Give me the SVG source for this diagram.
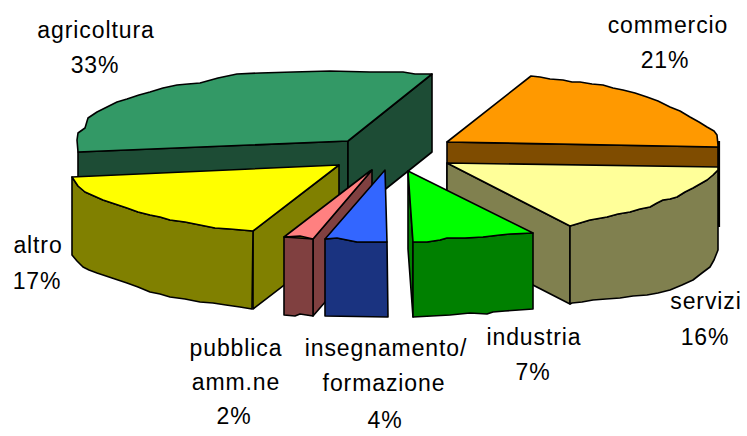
<svg xmlns="http://www.w3.org/2000/svg" width="747" height="436" viewBox="0 0 747 436">
<style>
.s{stroke:#000;stroke-width:1.6;stroke-linejoin:round}
.t{font-family:"Liberation Sans",Arial,sans-serif;font-size:23px;letter-spacing:0.9px;fill:#000;text-anchor:middle}
</style>
<rect width="747" height="436" fill="#fff"/>
<g id="commercio">
<polygon class="s" fill="#7f4c00" points="447,142 718,147 718,226 447,220"/>
<polygon class="s" fill="#ff9900" points="447,142 531,76 540,77 550,79 563,80 572,82 580,82 592,84 603,85 613,88 623,90 635,93 647,97 658,101 670,107 680,111 690,117 699,122 707,127 714,131 717,135 718,145 718,147"/>
<line x1="719" y1="141" x2="719" y2="227" stroke="#000" stroke-width="2.2"/>
</g>
<g id="servizi">
<polygon class="s" fill="#80804f" points="447,163 570,226 570,304 447,241"/>
<polygon class="s" fill="#80804f" points="570,226 590,220 607,217 618,214 630,212 640,209 650,207 657,203 663,200 670,199 677,197 685,192 693,188 700,184 707,180 713,175 718,170 718,250 714,260 710,267 702,273 693,280 682,285 670,290 658,293 647,295 633,296 620,298 606,299 593,300 582,302 572,303 570,304"/>
<polygon class="s" fill="#ffff99" points="447,163 718,167 718,170 713,175 707,180 700,184 693,188 685,192 677,197 670,199 663,200 657,203 650,207 640,209 630,212 618,214 607,217 590,220 570,226"/>
</g>
<g id="agricoltura">
<polygon class="s" fill="#1d4c35" points="78,152 348,141 348,219 78,230"/>
<polygon class="s" fill="#1d4c35" points="348,141 432,74 432,152 348,219"/>
<polygon class="s" fill="#339966" points="348,141 78,152 77,140 78,133 85,128 88,118 97,112 107,107 117,102 127,99 139,95 150,92 163,88 177,85 188,84 200,83 218,78 237,74 260,73 293,72 330,71 370,72 403,72 415,74 432,74"/>
</g>
<g id="altro">
<polygon class="s" fill="#808000" points="253,231 339,165 339,243 253,309"/>
<polygon class="s" fill="#808000" points="72,177 78,186 85,192 94,196 103,200 115,204 127,208 138,212 150,215 160,217 170,220 185,222 200,225 215,228 230,229 253,231 252,309 240,307 226,305 213,303 200,302 185,299 170,297 160,294 150,292 138,287 127,283 112,278 97,273 89,270 83,267 77,261 72,255"/>
<polygon class="s" fill="#ffff00" points="72,177 339,165 253,231 230,229 215,228 200,225 185,222 170,220 160,217 150,215 138,212 127,208 115,204 103,200 94,196 85,192 78,186"/>
</g>
<g id="pubblica">
<polygon class="s" fill="#804040" points="313,239 372,170 372,248 313,316"/>
<polygon class="s" fill="#804040" points="284,237 313,239 313,316 300,314 295,316 284,315"/>
<polygon class="s" fill="#ff8080" points="284,237 370,171 372,170 313,239 300,236"/>
</g>
<g id="insegnamento">
<polygon class="s" fill="#1a3380" points="325,239 337,238 347,240 357,242 387,242 388,317 325,316"/>
<polygon class="s" fill="#3366ff" points="325,239 385,170 387,242 357,242 347,240 337,238"/>
</g>
<g id="industria">
<polygon class="s" fill="#008000" points="408,171 413,242 413,317 408,249"/>
<polygon class="s" fill="#008000" points="413,242 427,242 440,240 447,238 465,238 483,237 500,235 510,234 533,233 533,309 505,311 493,312 487,314 470,313 450,315 413,317"/>
<polygon class="s" fill="#00ff00" points="408,171 533,233 510,234 500,235 483,237 465,238 447,238 440,240 427,242 413,242"/>
</g>
<g id="labels">
<text class="t" x="96" y="38">agricoltura</text>
<text class="t" x="95" y="73">33%</text>
<text class="t" x="668" y="33">commercio</text>
<text class="t" x="665" y="68">21%</text>
<text class="t" x="38" y="253">altro</text>
<text class="t" x="37" y="289">17%</text>
<text class="t" x="706" y="309">servizi</text>
<text class="t" x="705" y="345">16%</text>
<text class="t" x="534" y="345">industria</text>
<text class="t" x="533" y="380">7%</text>
<text class="t" x="236" y="356">pubblica</text>
<text class="t" x="236" y="390">amm.ne</text>
<text class="t" x="234" y="424">2%</text>
<text class="t" x="386" y="356">insegnamento/</text>
<text class="t" x="384" y="391">formazione</text>
<text class="t" x="385" y="428">4%</text>
</g>
</svg>
